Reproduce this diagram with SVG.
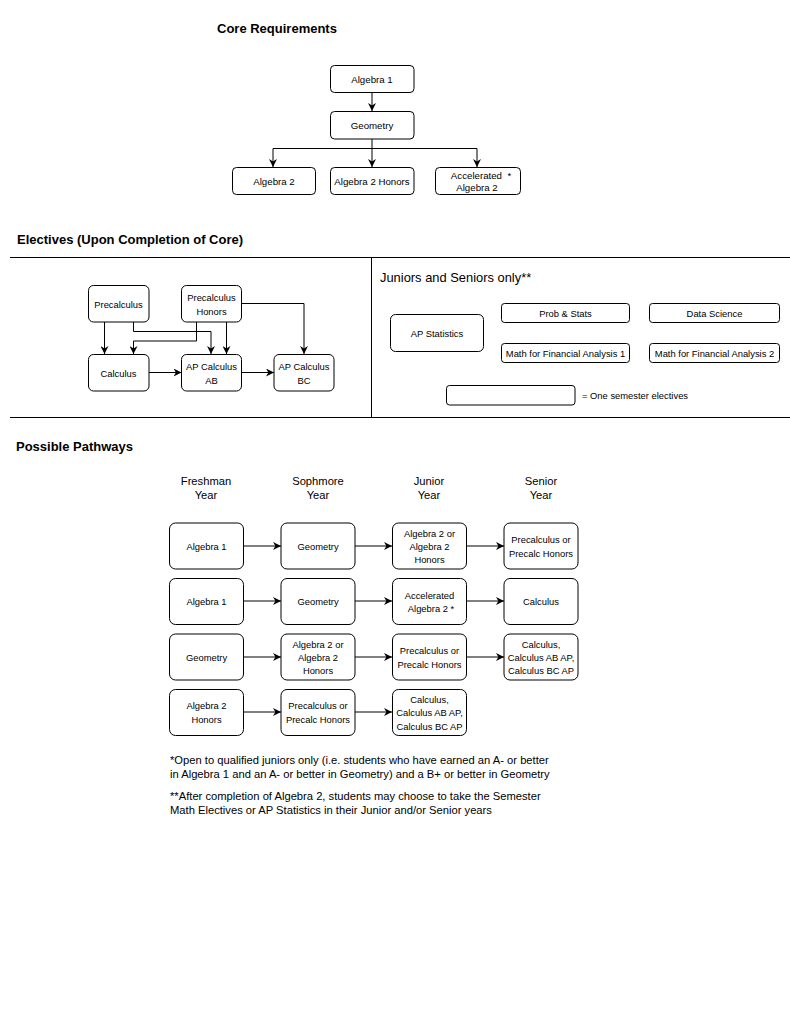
<svg xmlns="http://www.w3.org/2000/svg" width="790" height="1024" viewBox="0 0 790 1024">
<style>
text{font-family:"Liberation Sans",Arial,sans-serif;fill:#000}
.t{font-size:13px;font-weight:bold}
.n rect{fill:#fff;stroke:#000;stroke-width:1}
.n text{text-anchor:middle;dominant-baseline:central}
.c{font-size:9.7px}
.e{font-size:9.4px}
.p{font-size:9.4px}
.h{font-size:11.2px;text-anchor:middle}
.f{font-size:11.2px}
.conn path{fill:none;stroke:#000;stroke-width:1}
.div{stroke:#000;stroke-width:1}
</style>
<defs>
<marker id="a" viewBox="0 0 10 10" refX="10" refY="5" markerWidth="8" markerHeight="8" markerUnits="userSpaceOnUse" orient="auto">
<path d="M0,0 L10,5 L0,10 L3,5 Z" fill="#000"/>
</marker>
</defs>
<rect width="790" height="1024" fill="#fff"/>

<text class="t" x="217" y="32.5">Core Requirements</text>
<text class="t" x="17" y="243.5">Electives (Upon Completion of Core)</text>
<text class="t" x="16" y="450.5">Possible Pathways</text>

<g id="dividers">
<line class="div" x1="10" y1="257.5" x2="790" y2="257.5"/>
<line class="div" x1="10" y1="417.5" x2="790" y2="417.5"/>
<line class="div" x1="371.5" y1="257.5" x2="371.5" y2="417.5"/>
</g>

<g class="conn" id="connectors">
<path d="M372,92.5 V111" marker-end="url(#a)"/>
<path d="M372,139 V148.5 H273 V167" marker-end="url(#a)"/>
<path d="M372,148.5 V167" marker-end="url(#a)"/>
<path d="M372,148.5 H477 V167" marker-end="url(#a)"/>

<path d="M104.5,322 V354" marker-end="url(#a)"/>
<path d="M133.5,322 V331.5 H211 V354" marker-end="url(#a)"/>
<path d="M196.5,322 V341 H133.5 V354" marker-end="url(#a)"/>
<path d="M226.5,322 V354" marker-end="url(#a)"/>
<path d="M241.5,303.5 H304 V354" marker-end="url(#a)"/>
<path d="M149,372.5 H181.5" marker-end="url(#a)"/>
<path d="M241.5,372.5 H274" marker-end="url(#a)"/>

<path d="M243,546 H281" marker-end="url(#a)"/>
<path d="M355,546 H392" marker-end="url(#a)"/>
<path d="M466,546 H504" marker-end="url(#a)"/>
<path d="M243,601 H281" marker-end="url(#a)"/>
<path d="M355,601 H392" marker-end="url(#a)"/>
<path d="M466,601 H504" marker-end="url(#a)"/>
<path d="M243,657 H281" marker-end="url(#a)"/>
<path d="M355,657 H392" marker-end="url(#a)"/>
<path d="M466,657 H504" marker-end="url(#a)"/>
<path d="M243,712 H281" marker-end="url(#a)"/>
<path d="M355,712 H392" marker-end="url(#a)"/>
</g>

<!-- Core -->
<g class="n" id="core-alg1"><rect x="330.5" y="65.5" width="83.5" height="27" rx="4"/><text class="c" x="372" y="79">Algebra 1</text></g>
<g class="n" id="core-geo"><rect x="330.5" y="111.5" width="83.5" height="27.5" rx="4"/><text class="c" x="372" y="125.5">Geometry</text></g>
<g class="n" id="core-alg2"><rect x="232.5" y="167.5" width="83" height="27" rx="4"/><text class="c" x="274" y="181">Algebra 2</text></g>
<g class="n" id="core-alg2h"><rect x="330.5" y="167.5" width="83.5" height="27" rx="4"/><text class="c" x="372" y="181">Algebra 2 Honors</text></g>
<g class="n" id="core-acc"><rect x="435.5" y="167.5" width="85" height="27" rx="4"/><text class="c" x="481" y="175">Accelerated&#160;&#160;*</text><text class="c" x="477" y="187.5">Algebra 2</text></g>

<!-- Electives -->
<g class="n" id="el-precalc"><rect x="88.5" y="285.5" width="60.5" height="36.5" rx="5"/><text class="e" x="118.5" y="304">Precalculus</text></g>
<g class="n" id="el-precalch"><rect x="181.5" y="285.5" width="60" height="36.5" rx="5"/><text class="e" x="211.5" y="297">Precalculus</text><text class="e" x="211.5" y="311.5">Honors</text></g>
<g class="n" id="el-calc"><rect x="88.5" y="354.5" width="60.5" height="36.5" rx="5"/><text class="e" x="118.5" y="373">Calculus</text></g>
<g class="n" id="el-ab"><rect x="181.5" y="354.5" width="60" height="36.5" rx="5"/><text class="e" x="211.5" y="366">AP Calculus</text><text class="e" x="211.5" y="380">AB</text></g>
<g class="n" id="el-bc"><rect x="274" y="354.5" width="60" height="36.5" rx="5"/><text class="e" x="304" y="366">AP Calculus</text><text class="e" x="304" y="380">BC</text></g>

<text x="380" y="281.5" style="font-size:12.9px">Juniors and Seniors only**</text>
<g class="n" id="el-apstat"><rect x="390.5" y="314.5" width="93" height="37" rx="5"/><text class="e" x="437" y="333">AP Statistics</text></g>
<g class="n" id="el-prob"><rect x="501.5" y="303.5" width="128" height="19" rx="3"/><text class="e" x="565.5" y="313">Prob &amp; Stats</text></g>
<g class="n" id="el-ds"><rect x="649.5" y="303.5" width="130" height="19" rx="3"/><text class="e" x="714.5" y="313">Data Science</text></g>
<g class="n" id="el-mfa1"><rect x="501.5" y="343.5" width="128" height="19" rx="3"/><text class="e" x="565.5" y="353">Math for Financial Analysis 1</text></g>
<g class="n" id="el-mfa2"><rect x="649.5" y="343.5" width="130" height="19" rx="3"/><text class="e" x="714.5" y="353">Math for Financial Analysis 2</text></g>
<g class="n" id="legend"><rect x="446.5" y="385.5" width="128.5" height="19.5" rx="3"/></g>
<text class="e" x="582" y="399">=  One semester electives</text>

<!-- Pathways headers -->
<text class="h" x="206" y="485">Freshman</text><text class="h" x="206" y="498.5">Year</text>
<text class="h" x="318" y="485">Sophmore</text><text class="h" x="318" y="498.5">Year</text>
<text class="h" x="429" y="485">Junior</text><text class="h" x="429" y="498.5">Year</text>
<text class="h" x="541" y="485">Senior</text><text class="h" x="541" y="498.5">Year</text>

<!-- Row 1 -->
<g class="n" id="r1c1"><rect x="169.5" y="523" width="74" height="46" rx="6"/><text class="p" x="206.5" y="546">Algebra 1</text></g>
<g class="n" id="r1c2"><rect x="281" y="523" width="74" height="46" rx="6"/><text class="p" x="318" y="546">Geometry</text></g>
<g class="n" id="r1c3"><rect x="392.5" y="523" width="74" height="46" rx="6"/><text class="p" x="429.5" y="533">Algebra 2 or</text><text class="p" x="429.5" y="546">Algebra 2</text><text class="p" x="429.5" y="559.5">Honors</text></g>
<g class="n" id="r1c4"><rect x="504" y="523" width="74" height="46" rx="6"/><text class="p" x="541" y="539.5">Precalculus or</text><text class="p" x="541" y="553.5">Precalc Honors</text></g>
<!-- Row 2 -->
<g class="n" id="r2c1"><rect x="169.5" y="578.5" width="74" height="46" rx="6"/><text class="p" x="206.5" y="601.5">Algebra 1</text></g>
<g class="n" id="r2c2"><rect x="281" y="578.5" width="74" height="46" rx="6"/><text class="p" x="318" y="601.5">Geometry</text></g>
<g class="n" id="r2c3"><rect x="392.5" y="578.5" width="74" height="46" rx="6"/><text class="p" x="429.5" y="595">Accelerated</text><text class="p" x="431" y="608.5">Algebra 2 *</text></g>
<g class="n" id="r2c4"><rect x="504" y="578.5" width="74" height="46" rx="6"/><text class="p" x="541" y="601.5">Calculus</text></g>
<!-- Row 3 -->
<g class="n" id="r3c1"><rect x="169.5" y="634" width="74" height="46" rx="6"/><text class="p" x="206.5" y="657">Geometry</text></g>
<g class="n" id="r3c2"><rect x="281" y="634" width="74" height="46" rx="6"/><text class="p" x="318" y="644">Algebra 2 or</text><text class="p" x="318" y="657">Algebra 2</text><text class="p" x="318" y="670.5">Honors</text></g>
<g class="n" id="r3c3"><rect x="392.5" y="634" width="74" height="46" rx="6"/><text class="p" x="429.5" y="650.5">Precalculus or</text><text class="p" x="429.5" y="664.5">Precalc Honors</text></g>
<g class="n" id="r3c4"><rect x="504" y="634" width="74" height="46" rx="6"/><text class="p" x="541" y="644">Calculus,</text><text class="p" x="541" y="657">Calculus AB AP,</text><text class="p" x="541" y="670.5">Calculus BC AP</text></g>
<!-- Row 4 -->
<g class="n" id="r4c1"><rect x="169.5" y="689.5" width="74" height="46" rx="6"/><text class="p" x="206.5" y="705.5">Algebra 2</text><text class="p" x="206.5" y="719.5">Honors</text></g>
<g class="n" id="r4c2"><rect x="281" y="689.5" width="74" height="46" rx="6"/><text class="p" x="318" y="705.5">Precalculus or</text><text class="p" x="318" y="719.5">Precalc Honors</text></g>
<g class="n" id="r4c3"><rect x="392.5" y="689.5" width="74" height="46" rx="6"/><text class="p" x="429.5" y="699.5">Calculus,</text><text class="p" x="429.5" y="712.5">Calculus AB AP,</text><text class="p" x="429.5" y="726">Calculus BC AP</text></g>

<!-- Footnotes -->
<text class="f" x="170" y="764">*Open to qualified juniors only (i.e. students who have earned an A- or better</text>
<text class="f" x="170" y="778">in Algebra 1 and an A- or better in Geometry) and a B+ or better in Geometry</text>
<text class="f" x="170" y="800">**After completion of Algebra 2, students may choose to take the Semester</text>
<text class="f" x="170" y="814">Math Electives or AP Statistics in their Junior and/or Senior years</text>
</svg>
